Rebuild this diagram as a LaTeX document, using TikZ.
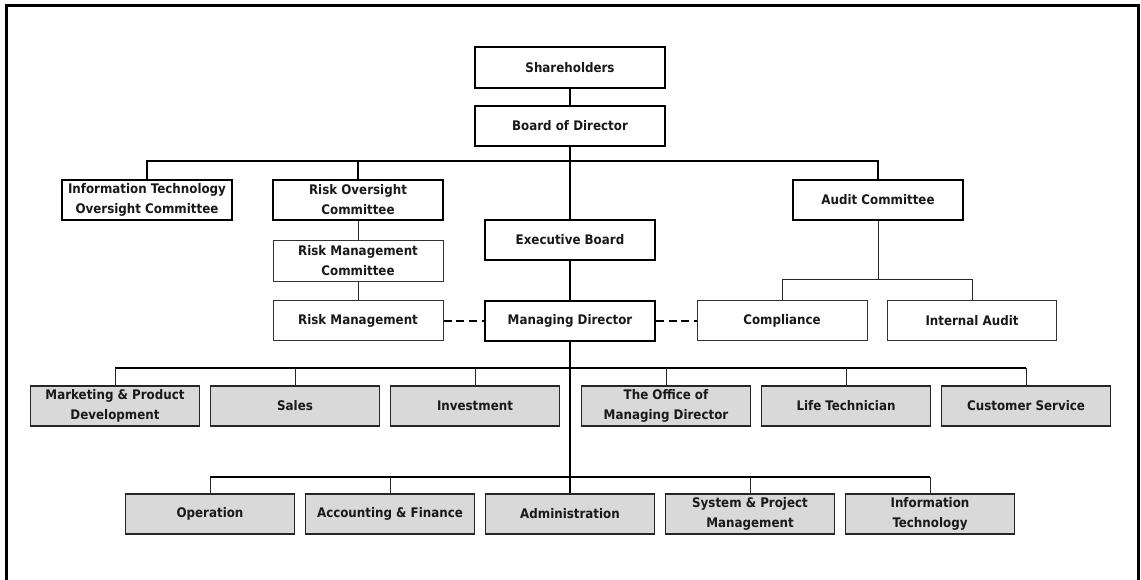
\documentclass[tikz,border=0pt]{standalone}
\usepackage{fontspec}
\setmainfont{DejaVu Sans Condensed}
\definecolor{boxgray}{HTML}{D9D9D9}
\tikzset{
  px/.style={x=0.75pt,y=-0.75pt},
  base/.style={draw, inner sep=0pt, align=center, minimum width=127.5pt, minimum height=30pt,
    font=\fontsize{9.9}{15}\selectfont\bfseries, text=black!90},
  thickbox/.style={base, line width=1.5pt},
  thinbox/.style={base, line width=0.75pt, draw=black!80},
  graybox/.style={base, line width=1pt, draw=black!85, fill=boxgray},
  thickline/.style={line width=1.5pt},
  thinline/.style={line width=0.75pt, draw=black!85},
  dashline/.style={line width=1.5pt, dash pattern=on 6pt off 3.5pt},
}
\begin{document}
\begin{tikzpicture}[px]
\useasboundingbox (0,0) rectangle (1141,580);
\clip (0,0) rectangle (1141,580);
\draw[line width=1.9pt] (6.5,5.5) rectangle (1138.5,620);

\node[thickbox, minimum width=143pt, minimum height=30.75pt] (sh) at (570,68) {Shareholders};
\node[thickbox, minimum width=143pt] (bd) at (570,126) {Board of Director};
\node[thickbox, minimum width=128pt] (ito) at (147,200) {Information Technology\\Oversight Committee};
\node[thickbox] (roc) at (358,200) {Risk Oversight\\Committee};
\node[thickbox, minimum width=128pt] (ac) at (878,200) {Audit Committee};
\node[thickbox] (eb) at (570,240) {Executive Board};
\node[thinbox, minimum height=30.75pt] (rmc) at (358,261) {Risk Management\\Committee};
\node[thinbox] (rm) at (358,321) {Risk Management};
\node[thickbox] (md) at (570,321) {Managing Director};
\node[thinbox] (co) at (782,321) {Compliance};
\node[thinbox, minimum width=126.75pt] (ia) at (972,321) {Internal Audit};

\node[graybox, minimum width=126.75pt] (mkt) at (115,406) {Marketing \& Product\\Development};
\node[graybox, minimum width=126.75pt] (sal) at (295,406) {Sales};
\node[graybox, minimum width=126.75pt] (inv) at (475,406) {Investment};
\node[graybox, minimum width=126.75pt] (omd) at (666,406) {The Office of\\Managing Director};
\node[graybox, minimum width=126.75pt] (lt) at (846,406) {Life Technician};
\node[graybox, minimum width=126.75pt] (cs) at (1026,406) {Customer Service};

\node[graybox, minimum width=126.75pt] (op) at (210,514) {Operation};
\node[graybox, minimum width=126.75pt] (acc) at (390,514) {Accounting \& Finance};
\node[graybox, minimum width=126.75pt] (adm) at (570,514) {Administration};
\node[graybox, minimum width=126.75pt] (spm) at (750,514) {System \& Project\\Management};
\node[graybox, minimum width=126.75pt] (it) at (930,514) {Information\\Technology};

\coordinate (h1) at (570,161);
\coordinate (h2) at (878,280);
\coordinate (h3) at (570,368);
\coordinate (h4) at (570,477);

\draw[thickline] (sh.south) -- (bd.north);
\draw[thickline] (bd.south) -- (eb.north);
\draw[thickline] (ito.north) -- (ito.north |- h1) -- (ac.north |- h1) -- (ac.north);
\draw[thickline] (roc.north) -- (roc.north |- h1);
\draw[thickline] (eb.south) -- (md.north);
\draw[thinline] (roc.south) -- (rmc.north);
\draw[thinline] (rmc.south) -- (rm.north);
\draw[thinline] (ac.south) -- (h2);
\draw[thinline] (co.north) -- (co.north |- h2) -- (ia.north |- h2) -- (ia.north);
\draw[dashline] (rm.east) -- (md.west);
\draw[dashline] (md.east) -- (co.west);

\draw[thickline] (md.south) -- (adm.north);
\draw[thickline] (mkt.north |- h3) -- (cs.north |- h3);
\foreach \n in {mkt,sal,inv,omd,lt,cs} \draw[thinline] (\n.north) -- (\n.north |- h3);
\draw[thickline] (op.north |- h4) -- (it.north |- h4);
\foreach \n in {op,acc,spm,it} \draw[thinline] (\n.north) -- (\n.north |- h4);
\end{tikzpicture}
\end{document}
